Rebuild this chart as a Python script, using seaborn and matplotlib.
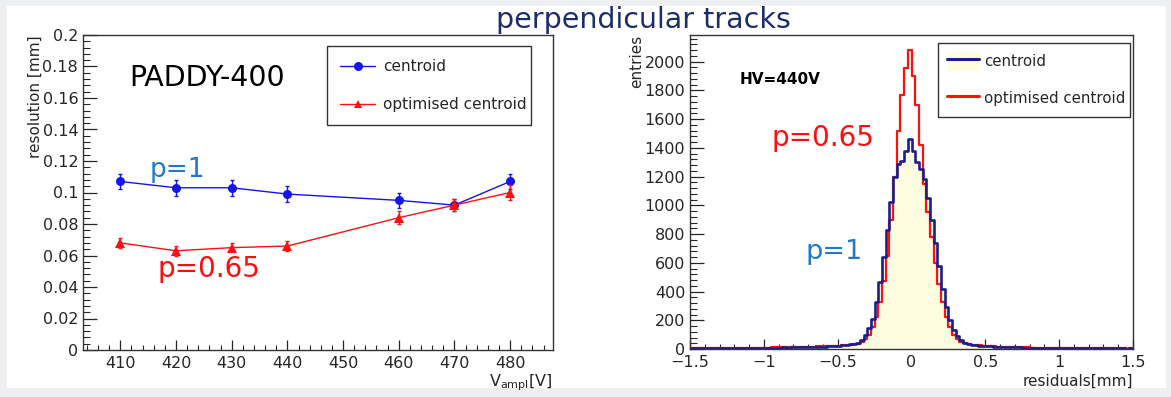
import numpy as np
import pandas as pd
import matplotlib
matplotlib.use("Agg")
import matplotlib.pyplot as plt
from matplotlib.patches import Rectangle, Patch
from matplotlib.lines import Line2D
from matplotlib.ticker import MultipleLocator, FuncFormatter
import seaborn as sns

# ---------------- data ----------------
voltages = [410, 420, 430, 440, 460, 470, 480]
res_centroid = [0.107, 0.103, 0.103, 0.099, 0.095, 0.092, 0.107]
err_centroid = [0.005, 0.005, 0.005, 0.005, 0.005, 0.004, 0.005]
res_optimised = [0.068, 0.063, 0.065, 0.066, 0.084, 0.092, 0.100]
err_optimised = [0.003, 0.003, 0.003, 0.003, 0.004, 0.004, 0.005]

hist_lo, hist_hi, hist_nbins = -1.5, 1.5, 120
counts_centroid = [
    5, 4, 6, 5, 6, 5, 7, 6, 5, 7,
    6, 7, 6, 8, 7, 6, 8, 7, 8, 7,
    9, 8, 9, 10, 9, 11, 10, 12, 11, 13,
    12, 14, 13, 15, 16, 15, 17, 18, 20, 21,
    24, 27, 30, 33, 36, 45, 62, 97, 143, 212,
    328, 466, 640, 830, 1020, 1200, 1285, 1308, 1377, 1458,
    1377, 1300, 1250, 1181, 1050, 900, 740, 580, 420, 293,
    200, 135, 90, 62, 45, 36, 30, 27, 24, 22,
    20, 18, 17, 16, 15, 14, 13, 12, 12, 11,
    10, 10, 9, 9, 8, 8, 7, 8, 7, 6,
    7, 6, 6, 5, 6, 5, 5, 6, 4, 5,
    5, 4, 5, 4, 4, 5, 4, 4, 3, 4,
]
counts_optimised = [
    4, 5, 6, 5, 7, 6, 5, 6, 7, 6,
    7, 8, 6, 8, 9, 7, 9, 8, 10, 9,
    10, 9, 11, 12, 11, 13, 12, 14, 13, 15,
    14, 16, 17, 16, 18, 19, 19, 20, 22, 23,
    24, 26, 28, 31, 34, 38, 48, 68, 100, 150,
    225, 330, 470, 650, 900, 1200, 1520, 1769, 1954, 2081,
    1901, 1700, 1420, 1150, 950, 780, 600, 450, 330, 220,
    150, 100, 68, 50, 40, 34, 30, 27, 25, 23,
    21, 19, 18, 17, 16, 15, 14, 13, 13, 12,
    11, 11, 10, 10, 9, 9, 8, 8, 7, 8,
    7, 7, 6, 7, 6, 6, 5, 6, 5, 5,
    6, 5, 4, 5, 4, 5, 4, 4, 3, 4,
]

# ---------------- style ----------------
sns.set_style("white")
plt.rcParams["font.family"] = ["DejaVu Sans"]
plt.rcParams["axes.linewidth"] = 1.0
plt.rcParams["axes.edgecolor"] = "#333333"

W, H = 1171, 397
fig = plt.figure(figsize=(W / 100, H / 100), dpi=100)
fig.patch.set_facecolor("#eeeff1")
fig.patches.append(Rectangle((7 / W, 9 / H), (1166 - 7) / W, (388 - 6) / H,
                             transform=fig.transFigure, facecolor="white",
                             edgecolor="none", zorder=-10))

def px_axes(x0, x1, ytop, ybot):
    return fig.add_axes([x0 / W, (H - ybot) / H, (x1 - x0) / W, (ybot - ytop) / H])

axL = px_axes(83, 553, 35, 350)
axR = px_axes(690, 1133, 35, 349)

BLUE = "#1414f0"
RED = "#ff1010"
NAVY = "#1b1e8c"
FILL = "#fffde0"
ANN_BLUE = "#1f7acb"
ANN_RED = "#ff0d0d"

def fmt_num(v, pos):
    s = f"{v:g}"
    return s.replace("-", "\u2212")

def root_ticks(ax, xlen_major, ylen_major):
    ax.tick_params(axis="x", which="major", direction="in", length=xlen_major, width=0.9,
                   labelsize=11.5, pad=4, top=False, bottom=True)
    ax.tick_params(axis="x", which="minor", direction="in", length=xlen_major / 2, width=0.8,
                   top=False, bottom=True)
    ax.tick_params(axis="y", which="major", direction="in", length=ylen_major, width=0.9,
                   labelsize=11.5, pad=3.5, left=True, right=False)
    ax.tick_params(axis="y", which="minor", direction="in", length=ylen_major / 2, width=0.8,
                   left=True, right=False)

# ---------------- left panel ----------------
df = pd.DataFrame({
    "V": voltages * 2,
    "res": res_centroid + res_optimised,
    "method": ["centroid"] * len(voltages) + ["optimised centroid"] * len(voltages),
})
sns.lineplot(data=df, x="V", y="res", hue="method", style="method",
             palette={"centroid": BLUE, "optimised centroid": RED},
             markers={"centroid": "o", "optimised centroid": "^"}, dashes=False,
             markersize=6.5, markeredgewidth=0, linewidth=1.0, ax=axL, legend=False)
axL.errorbar(voltages, res_centroid, yerr=err_centroid, fmt="none", ecolor=BLUE,
             elinewidth=1.0, capsize=1.5, capthick=1.0)
axL.errorbar(voltages, res_optimised, yerr=err_optimised, fmt="none", ecolor=RED,
             elinewidth=1.0, capsize=1.5, capthick=1.0)
axL.set_xlim(403.3, 487.7)
axL.set_ylim(0, 0.2)
axL.xaxis.set_major_locator(MultipleLocator(10))
axL.xaxis.set_minor_locator(MultipleLocator(2))
axL.yaxis.set_major_locator(MultipleLocator(0.02))
axL.yaxis.set_minor_locator(MultipleLocator(0.004))
axL.yaxis.set_major_formatter(FuncFormatter(fmt_num))
root_ticks(axL, 7, 10)
axL.set_xlabel(r"V$_{\mathregular{ampl}}$[V]", fontsize=11.5, loc="right", labelpad=1)
axL.set_ylabel("resolution [mm]", fontsize=11, loc="top", labelpad=0)

legL = axL.legend(handles=[
    Line2D([], [], color=BLUE, marker="o", markersize=6.5, markeredgewidth=0, lw=1.0),
    Line2D([], [], color=RED, marker="^", markersize=5.5, markeredgewidth=0, lw=1.0)],
    labels=["centroid", "optimised centroid"], loc="upper left",
    bbox_to_anchor=(244 / 470, 1 - 11 / 315, 204 / 470, 0.0001), mode="expand",
    fontsize=11, frameon=True, fancybox=False,
    edgecolor="#333333", framealpha=1, borderpad=0.85, labelspacing=1.5,
    handlelength=2.3, handletextpad=0.5, borderaxespad=0)
legL.get_frame().set_linewidth(1.0)

# ---------------- right panel ----------------
edges = np.linspace(hist_lo, hist_hi, hist_nbins + 1)
centers = (edges[:-1] + edges[1:]) / 2
hdf = pd.DataFrame({"x": centers, "c": counts_centroid, "o": counts_optimised})
sns.histplot(data=hdf, x="x", weights="c", bins=hist_nbins, binrange=(hist_lo, hist_hi),
             element="step", fill=True, color=FILL, alpha=1.0, linewidth=0, ax=axR)
sns.histplot(data=hdf, x="x", weights="o", bins=hist_nbins, binrange=(hist_lo, hist_hi),
             element="step", fill=False, color=RED, linewidth=1.6, ax=axR)
sns.histplot(data=hdf, x="x", weights="c", bins=hist_nbins, binrange=(hist_lo, hist_hi),
             element="step", fill=False, color=NAVY, linewidth=1.9, ax=axR)
axR.set_xlim(-1.5, 1.5)
axR.set_ylim(0, 2185)
axR.xaxis.set_major_locator(MultipleLocator(0.5))
axR.xaxis.set_minor_locator(MultipleLocator(0.1))
axR.yaxis.set_major_locator(MultipleLocator(200))
axR.yaxis.set_minor_locator(MultipleLocator(40))
axR.xaxis.set_major_formatter(FuncFormatter(fmt_num))
root_ticks(axR, 7, 10)
axR.set_xlabel("residuals[mm]", fontsize=11, loc="right", labelpad=3)
axR.set_ylabel("entries", fontsize=11, loc="top", labelpad=0)

legR = axR.legend(handles=[
    (Patch(facecolor=FILL, edgecolor="none"), Line2D([], [], color=NAVY, lw=2.2)),
    Line2D([], [], color=RED, lw=2.2)],
    labels=["centroid", "optimised centroid"], loc="upper left",
    bbox_to_anchor=(248 / 443, 1 - 8 / 314, 192 / 443, 0.0001), mode="expand",
    fontsize=10.8, frameon=True, fancybox=False,
    edgecolor="#333333", framealpha=1, borderpad=0.6, labelspacing=1.2,
    handlelength=2.1, handleheight=1.55, handletextpad=0.35, borderaxespad=0)
legR.get_frame().set_linewidth(1.0)

# ---------------- annotations (pixel positions, baseline) ----------------
def ftext(x, y, s, **kw):
    fig.text(x / W, 1 - y / H, s, va="baseline", **kw)

ftext(643, 28, "perpendicular tracks", color="#1c2d6c", fontsize=20.5, ha="center")
ftext(129, 86, "PADDY-400", color="black", fontsize=20.5, ha="left")
ftext(150, 177, "p=1", color=ANN_BLUE, fontsize=19, ha="left")
ftext(158, 277, "p=0.65", color=ANN_RED, fontsize=20, ha="left")
ftext(771, 146, "p=0.65", color=ANN_RED, fontsize=20, ha="left")
ftext(806, 259, "p=1", color=ANN_BLUE, fontsize=19.5, ha="left")
ftext(740, 83.5, "HV=440V", color="black", fontsize=11, fontweight="bold", ha="left")

fig.savefig("out.png", dpi=100, facecolor=fig.get_facecolor())
